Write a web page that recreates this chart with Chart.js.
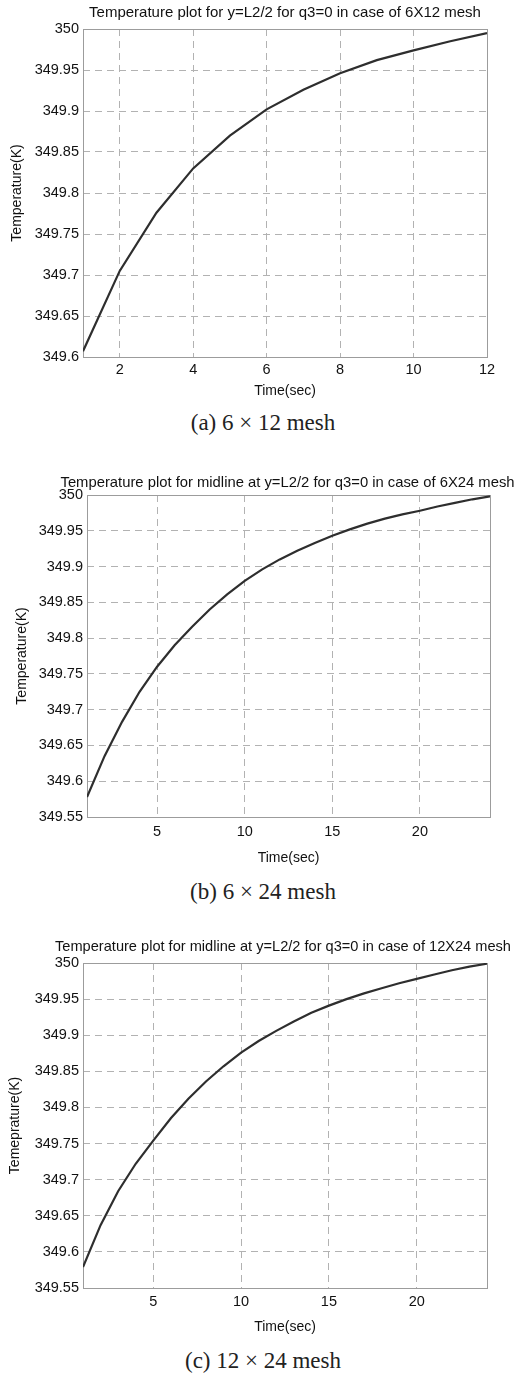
<!DOCTYPE html>
<html><head><meta charset="utf-8">
<script src="https://cdn.jsdelivr.net/npm/chart.js@4"></script>
<style>
html,body{margin:0;padding:0;background:#fff;}
body{position:relative;width:517px;height:1376px;overflow:hidden;}
canvas{position:absolute;left:0;}
.cap{position:absolute;left:0;width:526px;text-align:center;font-family:'Liberation Serif','Times New Roman',serif;font-size:23px;line-height:26px;color:#222;}
</style></head><body>
<canvas id="c1" width="517" height="400" style="top:0px"></canvas>
<div class="cap" style="top:410px">(a) 6 × 12 mesh</div>
<canvas id="c2" width="517" height="400" style="top:470px"></canvas>
<div class="cap" style="top:879px">(b) 6 × 24 mesh</div>
<canvas id="c3" width="517" height="410" style="top:930px"></canvas>
<div class="cap" style="top:1348px">(c) 12 × 24 mesh</div>
<script>
// ---- data ----
const time1 = [1, 2, 3, 4, 5, 6, 7, 8, 9, 10, 11, 12];
const temp1 = [349.607, 349.705, 349.776, 349.830, 349.870, 349.902, 349.926, 349.946, 349.962, 349.974, 349.985, 349.995];

const time2 = [1, 2, 3, 4, 5, 6, 7, 8, 9, 10, 11, 12, 13, 14, 15, 16, 17, 18, 19, 20, 21, 22, 23, 24];
const temp2 = [349.578, 349.635, 349.683, 349.725, 349.760, 349.790, 349.816, 349.840, 349.861, 349.880, 349.896, 349.910,
               349.922, 349.933, 349.943, 349.952, 349.960, 349.967, 349.973, 349.978, 349.984, 349.989, 349.994, 349.998];

const time3 = [1, 2, 3, 4, 5, 6, 7, 8, 9, 10, 11, 12, 13, 14, 15, 16, 17, 18, 19, 20, 21, 22, 23, 24];
const temp3 = [349.579, 349.637, 349.684, 349.722, 349.754, 349.785, 349.812, 349.836, 349.857, 349.876, 349.892, 349.906,
               349.919, 349.931, 349.941, 349.950, 349.958, 349.965, 349.972, 349.978, 349.984, 349.990, 349.995, 349.999];

const xTicks1 = [2, 4, 6, 8, 10, 12];
const xTicks2 = [5, 10, 15, 20];
const yTicks1 = [349.6, 349.65, 349.7, 349.75, 349.8, 349.85, 349.9, 349.95, 350];
const yTicks2 = [349.55, 349.6, 349.65, 349.7, 349.75, 349.8, 349.85, 349.9, 349.95, 350];

const titles = [
  'Temperature plot for y=L2/2 for q3=0 in case of 6X12 mesh',
  'Temperature plot for midline at y=L2/2 for q3=0 in case of 6X24 mesh',
  'Temperature plot for midline at y=L2/2 for q3=0 in case of 12X24 mesh'
];
const yTitles = ['Temperature(K)', 'Temperature(K)', 'Temeprature(K)'];
const xTitle = 'Time(sec)';

// ---- rendering ----
const FONT = "'Liberation Sans', Arial, sans-serif";
Chart.defaults.font.family = FONT;
Chart.defaults.font.size = 14.5;
Chart.defaults.color = '#111';

const frame = {
  id: 'frame',
  beforeDatasetsDraw(chart) {
    const {ctx, chartArea: a} = chart;
    ctx.save();
    ctx.strokeStyle = '#9c9c9c';
    ctx.lineWidth = 1;
    ctx.setLineDash([]);
    ctx.strokeRect(Math.round(a.left) + 0.5, Math.round(a.top) + 0.5,
                   Math.round(a.right) - Math.round(a.left), Math.round(a.bottom) - Math.round(a.top));
    ctx.restore();
  },
  afterDraw(chart, args, opts) {
    // axes-centred title (not squeezed to the plot width)
    const {ctx, chartArea: a} = chart;
    ctx.save();
    ctx.font = opts.size + 'px ' + FONT;
    ctx.fillStyle = '#111';
    ctx.textAlign = 'center';
    ctx.textBaseline = 'middle';
    ctx.fillText(opts.text, (a.left + a.right) / 2 + opts.dx, opts.y);
    ctx.restore();
  }
};

function makeChart(id, p) {
  const gridOpts = {color: '#b2b2b2', lineWidth: 1, drawTicks: false, borderDash: [7, 5]};
  return new Chart(document.getElementById(id), {
    type: 'line',
    data: {
      datasets: [{
        data: p.t.map((x, i) => ({x: x, y: p.v[i]})),
        borderColor: '#2e2e2e', borderWidth: 2.2, pointRadius: 0, tension: 0, fill: false
      }]
    },
    options: {
      responsive: false, animation: false, devicePixelRatio: 1,
      layout: {padding: {left: 0, right: p.R, top: p.T, bottom: 0}},
      plugins: {
        legend: {display: false}, tooltip: {enabled: false}, title: {display: false},
        frame: {text: p.title, y: p.ty, size: p.ts, dx: p.dx}
      },
      scales: {
        x: {
          type: 'linear', min: p.t[0], max: p.t[p.t.length - 1],
          afterBuildTicks: s => { s.ticks = p.xt.map(v => ({value: v})); },
          afterFit: s => { s.height = p.H; },
          grid: gridOpts, border: {display: false, dash: [7, 5]},
          ticks: {padding: p.xpad, maxRotation: 0, autoSkip: false, color: '#111'},
          title: {display: true, text: xTitle, color: '#111', font: {size: 14}, padding: {top: 0, bottom: p.xtpb}}
        },
        y: {
          type: 'linear', min: p.yt[0], max: p.yt[p.yt.length - 1],
          afterBuildTicks: s => { s.ticks = p.yt.map(v => ({value: v})); },
          afterFit: s => { s.width = p.L; },
          grid: gridOpts, border: {display: false, dash: [7, 5]},
          ticks: {padding: 4, autoSkip: false, color: '#111', callback: v => String(+Number(v).toFixed(2))},
          title: {display: true, text: p.ytitle, color: '#111', font: {size: 14}, padding: {top: p.ytpt, bottom: 0}}
        }
      }
    },
    plugins: [frame]
  });
}

makeChart('c1', {t: time1, v: temp1, xt: xTicks1, yt: yTicks1, title: titles[0], ytitle: yTitles[0],
  T: 29, ty: 13, ts: 15, dx: 0, L: 83, R: 30, H: 43, xpad: 4.3, xtpb: 0, ytpt: 8.6});
makeChart('c2', {t: time2, v: temp2, xt: xTicks2, yt: yTicks2, title: titles[1], ytitle: yTitles[1],
  T: 25, ty: 13, ts: 14.8, dx: -1, L: 87, R: 27, H: 53, xpad: 6.3, xtpb: 3.6, ytpt: 13.6});
makeChart('c3', {t: time3, v: temp3, xt: xTicks2, yt: yTicks2, title: titles[2], ytitle: yTitles[2],
  T: 33, ty: 17, ts: 14.6, dx: -2, L: 83, R: 30, H: 52, xpad: 5.3, xtpb: 4.6, ytpt: 6.6});
</script>
</body></html>
